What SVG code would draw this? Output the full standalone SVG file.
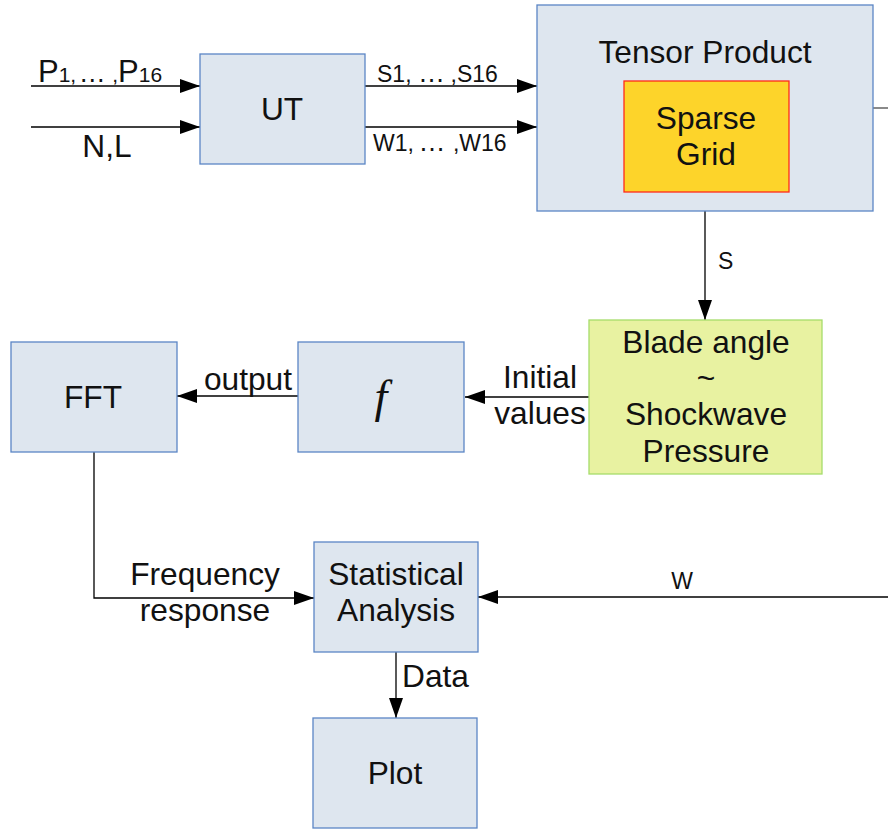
<svg xmlns="http://www.w3.org/2000/svg" width="888" height="830" viewBox="0 0 888 830">
  <defs>
    <marker id="arrow" markerUnits="userSpaceOnUse" markerWidth="20" markerHeight="14" refX="20" refY="7" orient="auto">
      <path d="M0,0 L20,7 L0,14 Z" fill="#000"/>
    </marker>
    <style>
      text { font-family: "Liberation Sans", Arial, sans-serif; fill: #111; }
      .box { fill: #dee6ef; stroke: #5b86c5; stroke-width: 1.3; }
      .sparse { fill: #fdd42a; stroke: #ff2a1a; stroke-width: 1.3; }
      .blade { fill: #e8f2a1; stroke: #a6dc6a; stroke-width: 1.3; }
      .big { font-size: 31.7px; text-anchor: middle; }
      .lbl { font-size: 31.7px; text-anchor: middle; }
      .sm { font-size: 23px; }
      .sub { font-size: 21px; }
      .dots { font-size: 27px; }
      .wire { fill: none; stroke: #000; stroke-width: 1.3; }
      .wire-end { marker-end: url(#arrow); }
    </style>
  </defs>
  <rect width="888" height="830" fill="#fff"/>

  <!-- connectors and their labels -->
  <g id="connectors">
    <path class="wire wire-end" d="M31,86 H200"/>
    <path class="wire wire-end" d="M31,127 H200"/>
    <path class="wire wire-end" d="M365,86 H537"/>
    <path class="wire wire-end" d="M365,127 H537"/>
    <path class="wire wire-end" d="M705,211 V320"/>
    <path class="wire wire-end" d="M589,397 H465"/>
    <path class="wire wire-end" d="M298,396 H177"/>
    <path class="wire wire-end" d="M94,452 V598 H314"/>
    <path class="wire wire-end" d="M888,597 H478"/>
    <path class="wire wire-end" d="M396,652 V718"/>
    <path d="M873,108 H888" fill="none" stroke="#8a8a8a" stroke-width="2"/>

    <text x="38" y="82" style="font-size:31px"><tspan>P</tspan><tspan class="sub">1,</tspan><tspan class="dots" dx="2.5">…</tspan><tspan class="sub" dx="6.5">,</tspan><tspan>P</tspan><tspan class="sub">16</tspan></text>
    <text x="107" y="157" class="lbl">N,L</text>
    <text x="377" y="82" class="sm">S1,<tspan class="dots" dx="6.5">…</tspan><tspan dx="5.5">,S16</tspan></text>
    <text x="373" y="151" class="sm">W1,<tspan class="dots" dx="4.5">…</tspan><tspan dx="7.5">,W16</tspan></text>
    <text x="718" y="269" class="sm">S</text>
    <text x="540" y="388" class="lbl">Initial</text>
    <text x="540" y="424" class="lbl">values</text>
    <text x="248" y="390" class="lbl">output</text>
    <text x="205" y="585" class="lbl">Frequency</text>
    <text x="205" y="621" class="lbl">response</text>
    <text x="682" y="589" class="sm" text-anchor="middle">W</text>
    <text x="402" y="687" style="font-size:31.7px">Data</text>
  </g>

  <g id="node-ut">
    <rect class="box" x="200" y="54" width="165" height="110"/>
    <text x="282" y="120" class="big">UT</text>
  </g>

  <g id="node-tensor">
    <rect class="box" x="537" y="5" width="336" height="206"/>
    <text x="705" y="63" class="big">Tensor Product</text>
  </g>

  <g id="node-sparse">
    <rect class="sparse" x="624" y="81" width="165" height="111"/>
    <text x="706" y="129" class="big">Sparse</text>
    <text x="706" y="165" class="big">Grid</text>
  </g>

  <g id="node-blade">
    <rect class="blade" x="589" y="320" width="233" height="154"/>
    <text x="706" y="353" class="big">Blade angle</text>
    <text x="706" y="389" class="big">~</text>
    <text x="706" y="425" class="big">Shockwave</text>
    <text x="706" y="462" class="big">Pressure</text>
  </g>

  <g id="node-f">
    <rect class="box" x="298" y="342" width="166" height="110"/>
    <text x="381" y="412" style="font-family:'Liberation Serif','Times New Roman',serif;font-style:italic;font-size:46px;text-anchor:middle">f</text>
  </g>

  <g id="node-fft">
    <rect class="box" x="11" y="342" width="166" height="110"/>
    <text x="93" y="408" class="big">FFT</text>
  </g>

  <g id="node-stats">
    <rect class="box" x="314" y="542" width="164" height="110"/>
    <text x="396" y="585" class="big">Statistical</text>
    <text x="396" y="621" class="big">Analysis</text>
  </g>

  <g id="node-plot">
    <rect class="box" x="313" y="718" width="164" height="110"/>
    <text x="395" y="784" class="big">Plot</text>
  </g>
</svg>
